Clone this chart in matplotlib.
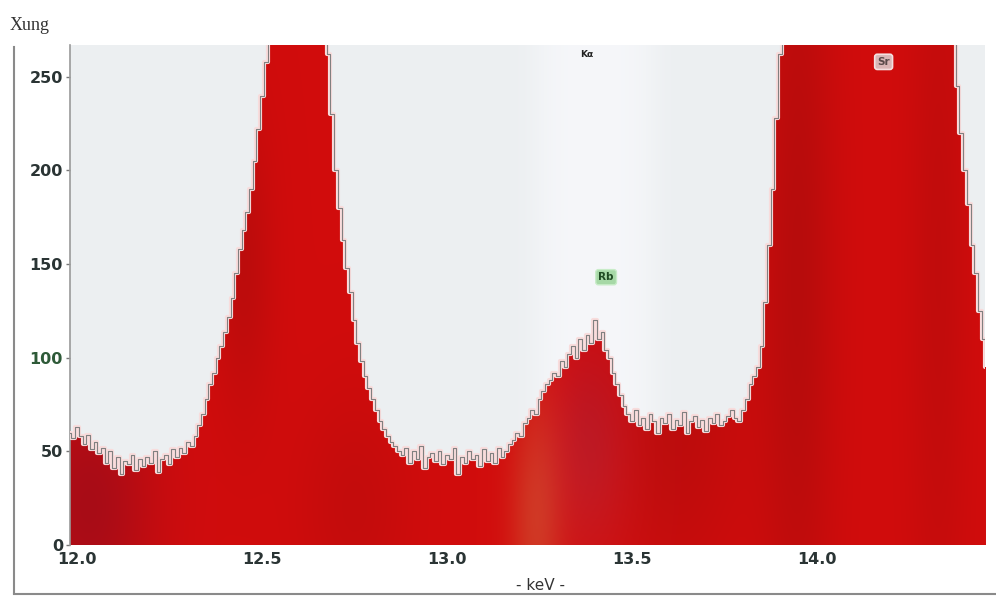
import numpy as np
import matplotlib.pyplot as plt
import matplotlib.patheffects as pe

# spectrum channels, 0.01 keV apart starting at 11.98 keV
kev_start = 11.98
kev_step = 0.01
counts = [
    60, 57, 63, 58, 54, 59, 51, 55, 49, 52,
    44, 50, 41, 47, 38, 45, 43, 48, 40, 46,
    42, 47, 44, 50, 39, 46, 48, 43, 51, 47,
    52, 49, 55, 53, 58, 64, 70, 78, 86, 92,
    100, 106, 114, 122, 132, 145, 158, 168, 178, 190,
    205, 222, 240, 258, 280, 300, 300, 300, 300, 300,
    300, 300, 300, 300, 300, 300, 300, 300, 300, 300,
    262, 230, 200, 180, 163, 148, 135, 120, 108, 98,
    90, 84, 78, 72, 66, 62, 58, 55, 53, 50,
    48, 52, 44, 50, 46, 53, 41, 47, 49, 45,
    50, 43, 48, 46, 52, 38, 47, 44, 50, 46,
    48, 42, 51, 45, 49, 44, 52, 47, 50, 54,
    56, 60, 58, 65, 68, 72, 70, 78, 82, 86,
    88, 92, 90, 98, 95, 102, 106, 100, 110, 104,
    112, 108, 120, 110, 114, 104, 100, 92, 86, 80,
    74, 70, 66, 72, 64, 68, 62, 70, 66, 60,
    68, 65, 70, 62, 67, 64, 71, 60, 66, 69,
    63, 67, 61, 68, 65, 70, 64, 66, 69, 72,
    68, 66, 72, 78, 86, 90, 95, 106, 130, 160,
    190, 228, 262, 300, 300, 300, 300, 300, 300, 300,
    300, 300, 300, 300, 300, 300, 300, 300, 300, 300,
    300, 300, 300, 300, 300, 300, 300, 300, 300, 300,
    300, 300, 300, 300, 300, 300, 300, 300, 300, 300,
    300, 300, 300, 300, 300, 300, 300, 300, 300, 280,
    245, 220, 200, 182, 160, 145, 125, 110, 95,
]
kev = np.round(kev_start + kev_step * np.arange(len(counts)), 2)

x_ticks = [12.0, 12.5, 13.0, 13.5, 14.0]
x_labels = ["12.0", "12.5", "13.0", "13.5", "14.0"]
y_ticks = [0, 50, 100, 150, 200, 250]
y_labels = ["0", "50", "100", "150", "200", "250"]

# peak tags
tags = [("Rb", 13.43, 143), ("Sr", 14.18, 258)]

xmin, xmax = 11.981, 14.454
ymin, ymax = 0, 267

fig = plt.figure(figsize=(9.96, 5.96), dpi=100)
ax = fig.add_axes([70 / 996, 51 / 596, 915 / 996, 500 / 596])
ax.set_facecolor("#eceff1")

gx = np.linspace(xmin, xmax, 600)
gy = np.linspace(ymin, ymax, 200)
GX, GY = np.meshgrid(gx, gy)
def blob(cx, cy, sx, sy):
    return np.exp(-((GX - cx) / sx) ** 2 - ((GY - cy) / sy) ** 2)

# soft lighter band behind the Rb peak
band = np.zeros(GX.shape + (4,))
band[..., :3] = [0.97, 0.975, 0.985]
band[..., 3] = 0.85 * np.exp(-((GX - 13.4) / 0.17) ** 4)
ax.imshow(band, extent=(xmin, xmax, ymin, ymax), origin="lower",
          aspect="auto", interpolation="bilinear", zorder=0.5)

poly = ax.fill_between(kev, counts, 0, step="mid", color="#cc1010", lw=0)

# red shading inside the spectrum
R = 0.82 - 0.16 * blob(12.03, 20, 0.18, 70) - 0.08 * blob(12.45, 150, 0.08, 80) \
    - 0.08 * blob(13.62, 70, 0.18, 90) - 0.10 * blob(13.95, 150, 0.10, 220) \
    - 0.06 * blob(14.33, 150, 0.08, 220) - 0.06 * blob(13.38, 60, 0.08, 50) \
    - 0.05 * blob(12.75, 20, 0.15, 60)
G = 0.05 + 0.16 * blob(13.24, 10, 0.07, 70) + 0.05 * blob(13.38, 40, 0.12, 60)
B = 0.05 + 0.08 * blob(13.24, 10, 0.07, 70) + 0.09 * blob(13.38, 50, 0.12, 60) \
    + 0.04 * blob(12.03, 20, 0.18, 70)
img = np.clip(np.dstack([R, G, B]), 0, 1)
im = ax.imshow(img, extent=(xmin, xmax, ymin, ymax), origin="lower",
               aspect="auto", interpolation="bilinear", zorder=2)
im.set_clip_path(poly.get_paths()[0], transform=ax.transData)

ax.step(kev, counts, where="mid", color="#808080", lw=0.8, zorder=3,
        path_effects=[pe.withStroke(linewidth=3, foreground="#f8dcdc")])

ax.set_xlim(xmin, xmax)
ax.set_ylim(ymin, ymax)

ax.set_xticks(x_ticks)
ax.set_xticklabels(x_labels)
ax.set_yticks(y_ticks)
ax.set_yticklabels(y_labels)
ax.tick_params(axis="x", length=0, pad=5, labelsize=11.5, labelcolor="#2a3434")
ax.tick_params(axis="y", length=3, width=1, color="#777777", pad=2,
               labelsize=11.5, labelcolor="#2a3434")
for t in ax.get_xticklabels() + ax.get_yticklabels():
    t.set_fontweight("bold")
ax.get_yticklabels()[2].set_color("#2e5a38")

for s in ["top", "right", "bottom"]:
    ax.spines[s].set_visible(False)
ax.spines["left"].set_color("#9a9a9a")
ax.spines["left"].set_linewidth(1.2)

ax.text(tags[0][1], tags[0][2], tags[0][0], ha="center", va="center",
        fontsize=7.5, fontweight="bold", color="#1f4a22", zorder=5,
        bbox=dict(boxstyle="round,pad=0.25", fc="#a6d8a6", ec="#c8ecc8", lw=1))
ax.text(tags[1][1], tags[1][2], tags[1][0], ha="center", va="center",
        fontsize=7.5, fontweight="bold", color="#5a4a4a", zorder=5,
        bbox=dict(boxstyle="round,pad=0.25", fc="#d9b6b6", ec="#f4e0e0", lw=1.2))
ax.text(13.378, 262, "Kα", ha="center", va="center", fontsize=6.5,
        fontweight="bold", color="#222222", zorder=5)

fig.text(10 / 996, 1 - 25 / 596, "Xung", fontsize=13, family="Liberation Serif",
         color="#333333", ha="left", va="center")
fig.text(540 / 996, 1 - 585 / 596, "- keV -", fontsize=11, color="#333333",
         ha="center", va="center")

# outer frame lines
fig.add_artist(plt.Line2D([14 / 996, 14 / 996], [0.005, 1 - 47 / 596],
                          transform=fig.transFigure, color="#8a8a8a", lw=1.5))
fig.add_artist(plt.Line2D([14 / 996, 1], [0.004, 0.004],
                          transform=fig.transFigure, color="#8a8a8a", lw=1.5))

fig.savefig("out.png", dpi=100)
